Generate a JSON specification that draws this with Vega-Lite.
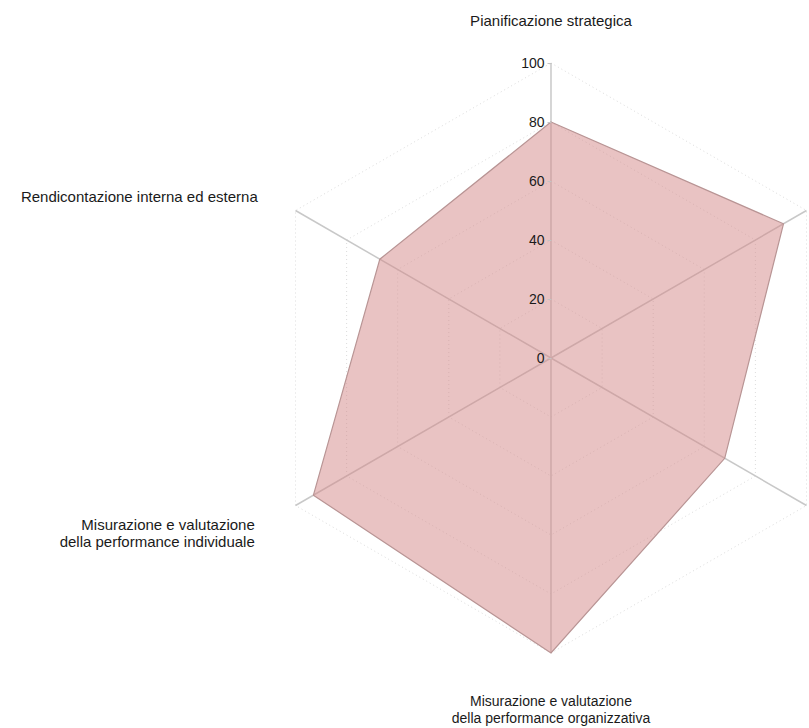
{
  "$schema": "https://vega.github.io/schema/vega-lite/v6.json",
  "width": 809,
  "height": 728,
  "autosize": {"type": "none"},
  "padding": 0,
  "background": "white",
  "config": {"view": {"stroke": null}, "font": "Liberation Sans"},
  "datasets": {
    "scores": [
      {"k": 0, "axis": "Pianificazione strategica", "value": 80},
      {"k": 1, "axis": "Programmazione e controllo", "value": 91},
      {"k": 2, "axis": "Trasparenza", "value": 68},
      {"k": 3, "axis": "Misurazione e valutazione\ndella performance organizzativa", "value": 100},
      {"k": 4, "axis": "Misurazione e valutazione\ndella performance individuale", "value": 93},
      {"k": 5, "axis": "Rendicontazione interna ed esterna", "value": 67}
    ],
    "grid": [
      {"k": 0, "level": 20}, {"k": 1, "level": 20}, {"k": 2, "level": 20}, {"k": 3, "level": 20}, {"k": 4, "level": 20}, {"k": 5, "level": 20},
      {"k": 0, "level": 40}, {"k": 1, "level": 40}, {"k": 2, "level": 40}, {"k": 3, "level": 40}, {"k": 4, "level": 40}, {"k": 5, "level": 40},
      {"k": 0, "level": 60}, {"k": 1, "level": 60}, {"k": 2, "level": 60}, {"k": 3, "level": 60}, {"k": 4, "level": 60}, {"k": 5, "level": 60},
      {"k": 0, "level": 80}, {"k": 1, "level": 80}, {"k": 2, "level": 80}, {"k": 3, "level": 80}, {"k": 4, "level": 80}, {"k": 5, "level": 80},
      {"k": 0, "level": 100}, {"k": 1, "level": 100}, {"k": 2, "level": 100}, {"k": 3, "level": 100}, {"k": 4, "level": 100}, {"k": 5, "level": 100}
    ]
  },
  "encoding": {
    "x": {"field": "x", "type": "quantitative", "scale": {"domain": [-186.78, 87.46], "nice": false, "zero": false}, "axis": null},
    "y": {"field": "y", "type": "quantitative", "scale": {"domain": [-125.42, 121.36], "nice": false, "zero": false},
      "axis": {"orient": "left", "offset": -551, "values": [0, 20, 40, 60, 80, 100], "domain": false, "grid": false, "title": null, "zindex": 2,
        "tickSize": 4, "tickColor": "#c4c4c4", "labelFontSize": 14, "labelColor": "#1a1a1a", "labelPadding": 3, "labelFont": "Liberation Sans"}}
  },
  "layer": [
    {
      "data": {"name": "grid"},
      "transform": [
        {"calculate": "datum.level * sin(datum.k * PI / 3)", "as": "x"},
        {"calculate": "datum.level * cos(datum.k * PI / 3)", "as": "y"}
      ],
      "mark": {"type": "line", "interpolate": "linear-closed", "stroke": "#dcdcdc", "strokeWidth": 1, "strokeDash": [1, 3]},
      "encoding": {"detail": {"field": "level", "type": "nominal"}, "order": {"field": "k", "type": "quantitative"}}
    },
    {
      "data": {"name": "scores"},
      "transform": [
        {"calculate": "0", "as": "x"},
        {"calculate": "0", "as": "y"},
        {"calculate": "100 * sin(datum.k * PI / 3)", "as": "xe"},
        {"calculate": "100 * cos(datum.k * PI / 3)", "as": "ye"}
      ],
      "mark": {"type": "rule", "stroke": "#c8c8c8", "strokeWidth": 1.5},
      "encoding": {"x2": {"field": "xe"}, "y2": {"field": "ye"}}
    },
    {
      "data": {"name": "scores"},
      "transform": [
        {"calculate": "datum.value * sin(datum.k * PI / 3)", "as": "x"},
        {"calculate": "datum.value * cos(datum.k * PI / 3)", "as": "y"}
      ],
      "mark": {"type": "line", "interpolate": "linear-closed", "fill": "#d38787", "fillOpacity": 0.5, "stroke": "#b89494", "strokeWidth": 1.2},
      "encoding": {"order": {"field": "k", "type": "quantitative"}}
    },
    {
      "data": {"name": "scores"},
      "transform": [
        {"filter": "datum.k == 0"},
        {"calculate": "114 * sin(datum.k * PI / 3)", "as": "x"},
        {"calculate": "114 * cos(datum.k * PI / 3)", "as": "y"}
      ],
      "mark": {"type": "text", "align": "center", "baseline": "middle", "fontSize": 15, "color": "#1a1a1a", "dy": -1},
      "encoding": {"text": {"field": "axis"}}
    },
    {
      "data": {"name": "scores"},
      "transform": [
        {"filter": "datum.k == 5"},
        {"calculate": "114 * sin(datum.k * PI / 3)", "as": "x"},
        {"calculate": "114 * cos(datum.k * PI / 3)", "as": "y"}
      ],
      "mark": {"type": "text", "align": "right", "baseline": "middle", "fontSize": 15, "color": "#1a1a1a", "dx": -2, "dy": 7},
      "encoding": {"text": {"field": "axis"}}
    },
    {
      "data": {"name": "scores"},
      "transform": [
        {"filter": "datum.k == 4"},
        {"calculate": "114 * sin(datum.k * PI / 3)", "as": "x"},
        {"calculate": "114 * cos(datum.k * PI / 3)", "as": "y"}
      ],
      "mark": {"type": "text", "align": "right", "baseline": "middle", "fontSize": 15, "color": "#1a1a1a", "dx": -5, "dy": -1, "lineBreak": "\n", "lineHeight": 17},
      "encoding": {"text": {"field": "axis"}}
    },
    {
      "data": {"name": "scores"},
      "transform": [
        {"filter": "datum.k == 3"},
        {"calculate": "114 * sin(datum.k * PI / 3)", "as": "x"},
        {"calculate": "114 * cos(datum.k * PI / 3)", "as": "y"}
      ],
      "mark": {"type": "text", "align": "center", "baseline": "top", "fontSize": 14, "color": "#1a1a1a", "dy": 1, "lineBreak": "\n", "lineHeight": 17},
      "encoding": {"text": {"field": "axis"}}
    }
  ]
}
